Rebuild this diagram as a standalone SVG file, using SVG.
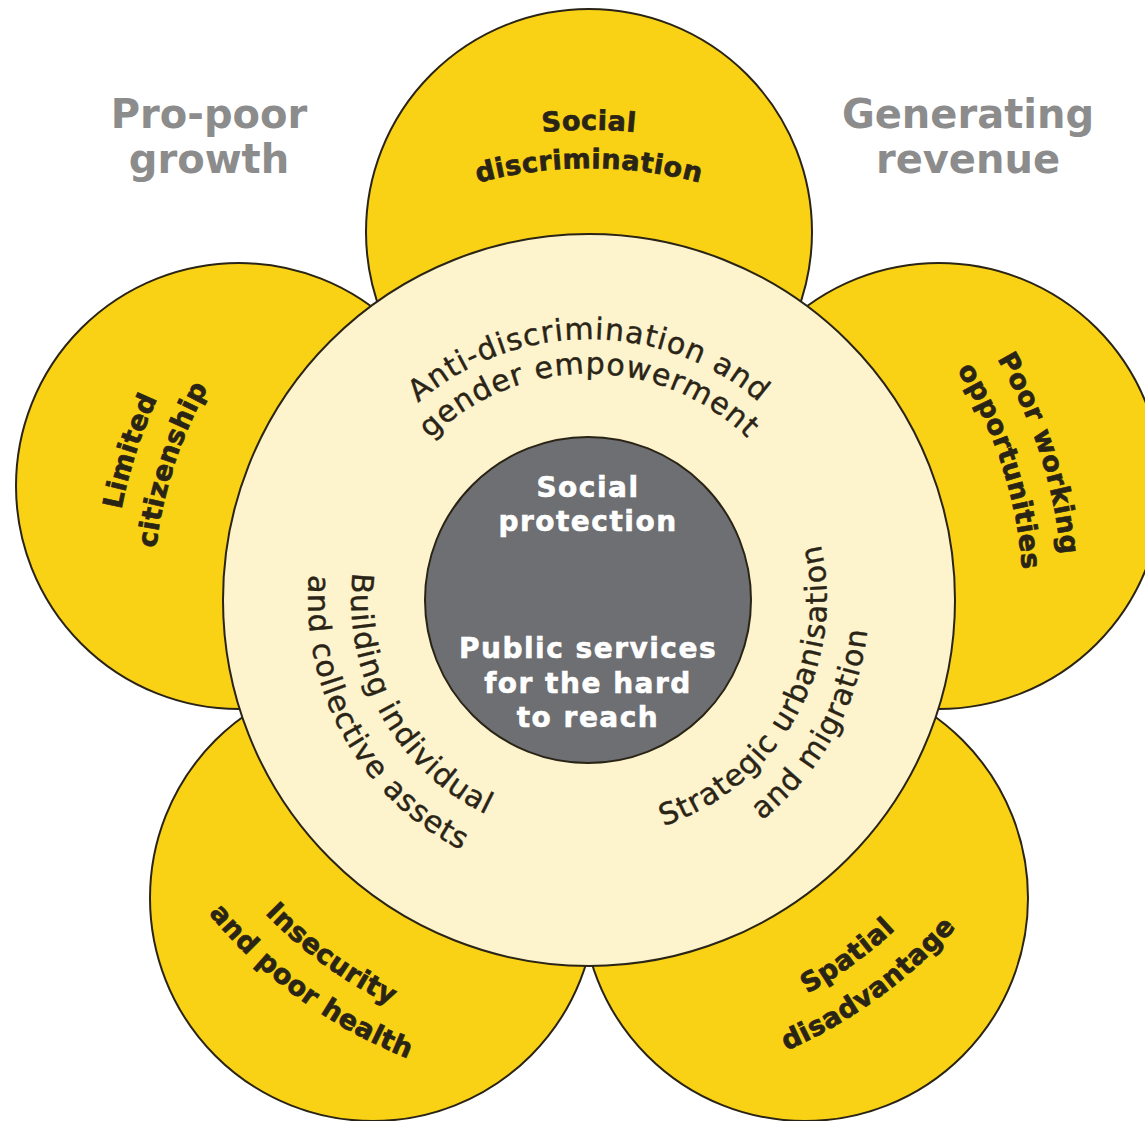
<svg xmlns="http://www.w3.org/2000/svg" xmlns:xlink="http://www.w3.org/1999/xlink" width="1145" height="1121" viewBox="0 0 1145 1121">
<style>
.petal{fill:#F9D215;stroke:#2a2416;stroke-width:2}
.ring{fill:#FDF3CD;stroke:#2a2416;stroke-width:2}
.core{fill:#6E6F73;stroke:#2a2416;stroke-width:2}
.pt{font-family:"DejaVu Sans",sans-serif;font-weight:bold;font-size:27px;fill:#2a2416;stroke:#2a2416;stroke-width:0.7;letter-spacing:0.5px}
.rt{font-family:"DejaVu Sans",sans-serif;font-size:30px;fill:#2a2416;stroke:#2a2416;stroke-width:0.4;letter-spacing:1px}
.ct{font-family:"DejaVu Sans",sans-serif;font-weight:bold;font-size:28px;fill:#ffffff;stroke:#ffffff;stroke-width:0.6;letter-spacing:1.5px;text-anchor:middle}
.hd{font-family:"DejaVu Sans",sans-serif;font-weight:bold;font-size:40px;fill:#8C8C8C;text-anchor:middle}
</style>
<defs>
<path id="a1" d="M126.1,518.4 A470,470 0 0 1 1051.9,518.4"/>
<path id="a2" d="M163.6,525.0 A432,432 0 0 1 1014.4,525.0"/>
<path id="b1" d="M365.5,1020.3 A476,476 0 0 1 655.3,128.6"/>
<path id="b2" d="M384.3,984.9 A436,436 0 0 1 649.7,168.2"/>
<path id="c1" d="M523.0,130.6 A474,474 0 0 1 811.5,1018.5"/>
<path id="c2" d="M528.6,170.2 A434,434 0 0 1 792.8,983.2"/>
<path id="d1" d="M183.6,402.3 A451,451 0 0 0 902.3,924.4"/>
<path id="d2" d="M145.9,383.9 A493,493 0 0 0 931.5,954.6"/>
<path id="e1" d="M276.4,923.7 A450,450 0 0 0 993.5,402.7"/>
<path id="e2" d="M247.2,953.9 A492,492 0 0 0 1031.2,384.3"/>
<path id="r1" d="M332.0,554.7 A261,261 0 0 1 846.0,554.7"/>
<path id="r2" d="M366.4,560.7 A226,226 0 0 1 811.6,560.7"/>
<path id="r3" d="M439.2,415.1 A238,238 0 0 0 666.5,825.0"/>
<path id="r4" d="M412.2,381.6 A281,281 0 0 0 680.5,865.7"/>
<path id="r5" d="M511.5,825.0 A238,238 0 0 0 738.8,415.1"/>
<path id="r6" d="M497.8,864.7 A280,280 0 0 0 765.2,382.4"/>
</defs>
<rect width="1145" height="1121" fill="#ffffff"/>
<g id="connectors"></g>
<g id="heading-left">
<text class="hd" x="209" y="128">Pro-poor</text>
<text class="hd" x="209" y="173">growth</text>
</g>
<g id="heading-right">
<text class="hd" x="968" y="128">Generating</text>
<text class="hd" x="968" y="173">revenue</text>
</g>
<g id="petal-top">
<circle class="petal" cx="589" cy="232" r="223"/>
<text class="pt"><textPath xlink:href="#a1" startOffset="50%" text-anchor="middle">Social</textPath></text>
<text class="pt"><textPath xlink:href="#a2" startOffset="50%" text-anchor="middle">discrimination</textPath></text>
</g>
<g id="petal-left">
<circle class="petal" cx="239" cy="486" r="223"/>
<text class="pt"><textPath xlink:href="#b1" startOffset="50%" text-anchor="middle">Limited</textPath></text>
<text class="pt"><textPath xlink:href="#b2" startOffset="50%" text-anchor="middle">citizenship</textPath></text>
</g>
<g id="petal-right">
<circle class="petal" cx="939" cy="486" r="223"/>
<text class="pt"><textPath xlink:href="#c1" startOffset="50%" text-anchor="middle">Poor working</textPath></text>
<text class="pt"><textPath xlink:href="#c2" startOffset="50%" text-anchor="middle">opportunities</textPath></text>
</g>
<g id="petal-bottom-left">
<circle class="petal" cx="373" cy="898" r="223"/>
<text class="pt"><textPath xlink:href="#d1" startOffset="50%" text-anchor="middle">Insecurity</textPath></text>
<text class="pt"><textPath xlink:href="#d2" startOffset="50%" text-anchor="middle">and poor health</textPath></text>
</g>
<g id="petal-bottom-right">
<circle class="petal" cx="805" cy="898" r="223"/>
<text class="pt"><textPath xlink:href="#e1" startOffset="50%" text-anchor="middle">Spatial</textPath></text>
<text class="pt"><textPath xlink:href="#e2" startOffset="50%" text-anchor="middle">disadvantage</textPath></text>
</g>
<g id="ring">
<circle class="ring" cx="589" cy="600" r="366"/>
<text class="rt"><textPath xlink:href="#r1" startOffset="50%" text-anchor="middle">Anti-discrimination and</textPath></text>
<text class="rt"><textPath xlink:href="#r2" startOffset="50%" text-anchor="middle">gender empowerment</textPath></text>
<text class="rt"><textPath xlink:href="#r3" startOffset="50%" text-anchor="middle">Building individual</textPath></text>
<text class="rt"><textPath xlink:href="#r4" startOffset="50%" text-anchor="middle">and collective assets</textPath></text>
<text class="rt"><textPath xlink:href="#r5" startOffset="50%" text-anchor="middle">Strategic urbanisation</textPath></text>
<text class="rt"><textPath xlink:href="#r6" startOffset="50%" text-anchor="middle">and migration</textPath></text>
</g>
<g id="core">
<circle class="core" cx="588" cy="600" r="163"/>
<text class="ct" x="588" y="497">Social</text>
<text class="ct" x="588" y="531">protection</text>
<text class="ct" x="588" y="658">Public services</text>
<text class="ct" x="588" y="693">for the hard</text>
<text class="ct" x="588" y="727">to reach</text>
</g>
</svg>
